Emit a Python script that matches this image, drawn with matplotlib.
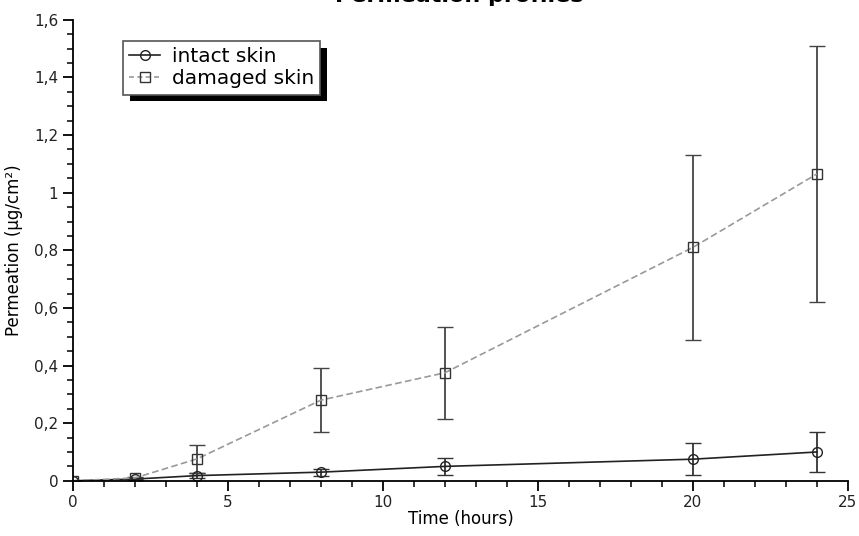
import matplotlib
matplotlib.use("Agg")
import matplotlib.pyplot as plt
from matplotlib.ticker import MultipleLocator, FuncFormatter
from matplotlib.lines import Line2D
import matplotlib.patheffects as pe

# data
time_h = [0, 2, 4, 8, 12, 20, 24]
intact = [0.0, 0.006, 0.018, 0.03, 0.05, 0.075, 0.1]
intact_err = [0.0, 0.004, 0.01, 0.012, 0.03, 0.056, 0.068]
damaged = [0.0, 0.01, 0.076, 0.28, 0.375, 0.81, 1.065]
damaged_err = [0.0, 0.004, 0.048, 0.112, 0.16, 0.32, 0.443]

plt.rcParams['font.family'] = ['DejaVu Sans']

fig = plt.figure(figsize=(8.59, 5.36), dpi=100)
ax = fig.add_axes([0.085, 0.103, 0.902, 0.86])

ax.errorbar(time_h, intact, yerr=intact_err, color='#222222', lw=1.2,
            marker='o', ms=7, mfc='none', mec='#222222', mew=1.0,
            ecolor='#333333', elinewidth=1.3, capsize=6, capthick=1.3)
ax.errorbar(time_h, damaged, yerr=damaged_err, color='#999999', lw=1.2, ls='--',
            dashes=(4, 2), marker='s', ms=6.5, mfc='none', mec='#333333', mew=1.0,
            ecolor='#444444', elinewidth=1.3, capsize=6, capthick=1.3)

ax.set_xlim(0, 25)
ax.set_ylim(0, 1.6)
ax.xaxis.set_major_locator(MultipleLocator(5))
ax.xaxis.set_minor_locator(MultipleLocator(1))
ax.yaxis.set_major_locator(MultipleLocator(0.2))
ax.yaxis.set_minor_locator(MultipleLocator(0.05))


def comma_fmt(v, pos):
    s = ('%.1f' % v).rstrip('0').rstrip('.')
    return s.replace('.', ',')


ax.yaxis.set_major_formatter(FuncFormatter(comma_fmt))

for side in ['top', 'right']:
    ax.spines[side].set_visible(False)
ax.spines['left'].set_linewidth(1.3)
ax.spines['bottom'].set_linewidth(1.3)
ax.tick_params(which='major', direction='out', length=7, width=1.3, labelsize=11,
               labelcolor='#222222')
ax.tick_params(which='minor', direction='out', length=4, width=1.1)

ax.set_xlabel('Time (hours)', fontsize=12, labelpad=0)
ax.set_ylabel('Permeation (µg/cm²)', fontsize=12, labelpad=8)

# title sits mostly above the canvas, as in the source image
fig.text(0.535, 0.989, 'Permeation profiles', ha='center', va='bottom',
         fontsize=16, fontweight='bold')

handles = [
    Line2D([], [], color='#222222', lw=1.2, marker='o', ms=7, mfc='none', mew=1.0),
    Line2D([], [], color='#999999', lw=1.2, ls='--', dashes=(3, 2), marker='s', ms=6.5,
           mfc='none', mec='#333333', mew=1.0),
]
leg = ax.legend(handles, ['intact skin', 'damaged skin'], loc='upper left',
                bbox_to_anchor=(0.052, 0.975), fontsize=14.5, frameon=True,
                fancybox=False, framealpha=1.0, handlelength=1.5,
                borderpad=0.3, labelspacing=0.15, handletextpad=0.6)
frame = leg.get_frame()
frame.set_edgecolor('#555555')
frame.set_linewidth(1.2)
frame.set_path_effects([pe.SimplePatchShadow(offset=(5, -5), shadow_rgbFace='black', alpha=1.0),
                        pe.Normal()])

fig.savefig('out.png', dpi=100)
